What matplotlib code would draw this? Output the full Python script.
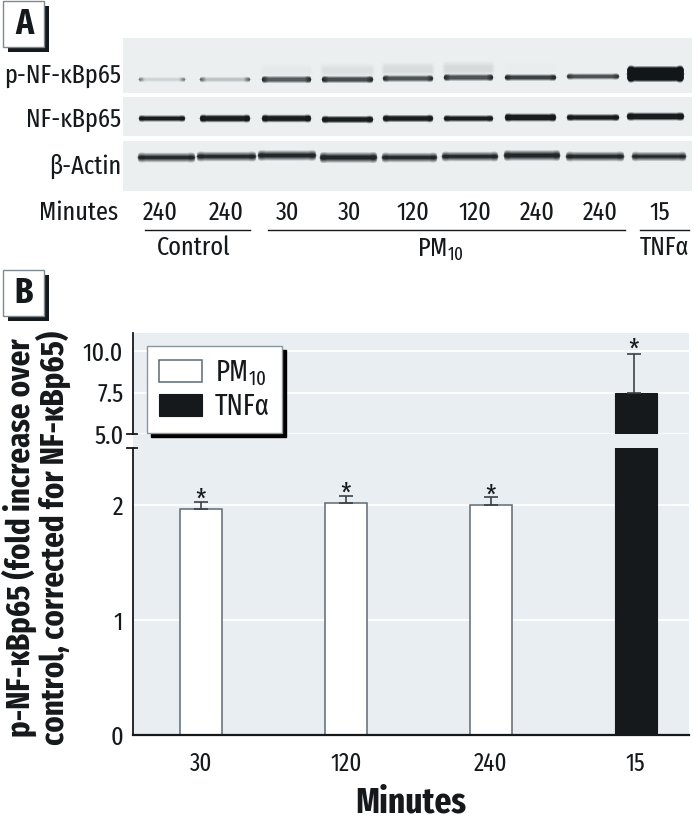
import numpy as np
import matplotlib
matplotlib.use("Agg")
import matplotlib.pyplot as plt
from matplotlib.patches import Rectangle
from matplotlib import font_manager as fm

names = {f.name for f in fm.fontManager.ttflist}
FAMS = [n for n in ["Fira Sans Extra Condensed", "Roboto Condensed", "Liberation Sans", "DejaVu Sans"] if n in names]
plt.rcParams["font.family"] = FAMS
plt.rcParams["mathtext.fontset"] = "custom"
plt.rcParams["mathtext.rm"] = FAMS[0]
plt.rcParams["mathtext.default"] = "rm"

# ---- panel B data
categories = ["30", "120", "240", "15"]
pm10_values = [1.97, 2.02, 2.00]
pm10_errors = [0.06, 0.06, 0.07]
tnf_value = [7.45]
tnf_error = [2.35]
lower_ticks = [0, 1, 2]
upper_ticks = [5.0, 7.5, 10.0]

# ---- panel A data (lanes)
lane_left = [138, 199, 261, 321, 382, 443, 504, 566, 626]
lane_right = [185, 250, 311, 373, 433, 493, 556, 619, 684]
p_mid = [0.14, 0.22, 0.68, 0.75, 0.72, 0.72, 0.80, 0.72, 1.0]
p_end = [0.70, 0.80, 0.98, 0.98, 0.95, 0.98, 0.98, 0.90, 1.0]
p_half = [1.6, 1.8, 2.6, 2.6, 2.5, 2.6, 2.4, 2.2, 7.2]
p_center = [79, 79, 79, 79, 78, 77, 77, 76, 73.5]
p_smear = [0.0, 0.0, 0.03, 0.07, 0.09, 0.10, 0.01, 0.0, 0.0]
total_half = [2.4, 3.0, 3.0, 2.8, 2.8, 2.5, 3.2, 2.6, 3.2]
total_center = [118, 118, 118, 119, 118, 118, 117, 117, 116]
actin_left = [137, 196, 257, 319, 381, 441, 503, 565, 631]
actin_right = [195, 256, 316, 377, 437, 498, 560, 624, 686]
actin_half = [3.0, 3.0, 3.3, 3.5, 3.0, 3.0, 3.5, 3.0, 2.8]
actin_center = [157, 156, 155, 157, 157, 156, 155, 156, 156]

lane_labels = ["240", "240", "30", "30", "120", "120", "240", "240", "15"]
lane_label_x = [160, 226, 288, 350, 413, 475, 537, 600, 660]
row_labels = ["p-NF-κBp65", "NF-κBp65", "β-Actin"]
row_label_y = [76, 120, 166]

W, H = 698, 821
INK = "#15191c"
BG = "#e9eef2"
fig = plt.figure(figsize=(W / 100, H / 100), dpi=100, facecolor="white")


def ax_px(x0, y0, x1, y1, **kw):
    return fig.add_axes([x0 / W, 1 - y1 / H, (x1 - x0) / W, (y1 - y0) / H], **kw)


PLOT_L, PLOT_R, PLOT_T, PLOT_B = 133, 689, 333, 735
BREAK_LOW, BREAK_UP = 448, 434

# ---- panel B background
bg = ax_px(PLOT_L, PLOT_T, PLOT_R, PLOT_B, zorder=0)
bg.set_facecolor(BG)
bg.set_xticks([]); bg.set_yticks([])
for s in bg.spines.values():
    s.set_visible(False)

xs = np.arange(4)
centres_px = [201, 345, 490, 635.5]
pitch = (centres_px[3] - centres_px[0]) / 3
xlim = ((PLOT_L - centres_px[0]) / pitch, (PLOT_R - centres_px[0]) / pitch)
bar_w = 42 / pitch

low = ax_px(PLOT_L, BREAK_LOW, PLOT_R, PLOT_B, zorder=2)
up = ax_px(PLOT_L, PLOT_T, PLOT_R, BREAK_UP, zorder=2)
low.set_ylim(0, (PLOT_B - BREAK_LOW) / 114.8)
up.set_ylim(5, 5 + (BREAK_UP - PLOT_T) / 16.6)

for ax in (low, up):
    ax.patch.set_alpha(0)
    ax.set_xlim(xlim)
    ax.spines["top"].set_visible(False)
    ax.spines["right"].set_visible(False)
    ax.spines["left"].set_color(INK)
    ax.spines["left"].set_linewidth(1.3)
    ax.grid(axis="y", color="white", lw=1.3, zorder=0)
    ax.set_axisbelow(True)
    ax.tick_params(axis="y", length=0, labelsize=19, labelcolor=INK, pad=7)

low.spines["bottom"].set_color(INK)
low.spines["bottom"].set_linewidth(1.6)
up.spines["bottom"].set_visible(False)
up.set_xticks([])
low.set_xticks(xs, categories)
low.tick_params(axis="x", length=0, labelsize=18, labelcolor=INK, pad=12)
low.set_yticks(lower_ticks)
up.set_yticks(upper_ticks, [f"{v:.1f}" for v in upper_ticks])

edge = "#5d6a74"
err_kw = dict(ecolor="#3a4248", elinewidth=1.2, capsize=4.7, capthick=1.2, zorder=3)
pm_handle = None
tnf_handle = None
for ax in (low, up):
    pm_handle = ax.bar(xs[:3], pm10_values, bar_w, color="white", edgecolor=edge, lw=1.1,
                       zorder=2, label="PM$_{10}$")
    tnf_handle = ax.bar(xs[3:], tnf_value, bar_w, color=INK, edgecolor=INK, lw=0.8,
                        zorder=2, label="TNFα")
low.errorbar(xs[:3], pm10_values, yerr=[[0] * 3, pm10_errors], fmt="none", **err_kw)
up.errorbar(xs[3:] - 0.01, tnf_value, yerr=[[0], tnf_error], fmt="none", **err_kw)

for x, v, e in zip(xs[:3], pm10_values, pm10_errors):
    low.annotate("*", (x, v + e), xytext=(0, -9), textcoords="offset points", ha="center",
                 va="bottom", fontsize=20, color=INK)
up.annotate("*", (3 - 0.01, tnf_value[0] + tnf_error[0]), xytext=(0, -7.5), textcoords="offset points",
            ha="center", va="bottom", fontsize=20, color=INK, annotation_clip=False)

# axis-break ticks
for y_px in (BREAK_UP, BREAK_LOW):
    fig.add_artist(plt.Line2D([127 / W, 137 / W], [1 - y_px / H] * 2, color=INK, lw=1.3, zorder=5))

# legend
leg = up.legend(handles=[pm_handle, tnf_handle], loc="upper left", frameon=True, fancybox=False,
                bbox_to_anchor=(147 / W, 1 - 346 / H), bbox_transform=fig.transFigure,
                borderaxespad=0, fontsize=21, handlelength=1.48, handleheight=0.76, handletextpad=0.42,
                labelspacing=0.15, borderpad=0.42, framealpha=1,
                shadow={"color": "black", "alpha": 1, "ox": 3, "oy": -3}, labelcolor=INK)
leg.get_frame().set_edgecolor("#8a969e")
leg.get_frame().set_linewidth(1.0)
leg.set_zorder(10)

# ---- panel A blot
pix = ax_px(0, 0, W, H, zorder=6)
pix.patch.set_alpha(0)
pix.axis("off")

BX0, BX1, BY0, BY1 = 123, 692, 38, 191
yy, xx = np.mgrid[BY0:BY1, BX0:BX1].astype(float)
dark = np.zeros_like(xx)


def soft(d, s):
    return np.clip(0.5 + d / (2 * s), 0, 1)


def add_band(l, r, cy, half, mid, end, s=1.2):
    c = (l + r) / 2
    u = np.clip(np.abs(xx - c) / ((r - l) / 2), 0, 1)
    flare = np.clip((u - 0.72) / 0.28, 0, 1)
    h = half * (1 + 0.5 * flare) * np.sqrt(1 - u ** 10)
    strength = mid + (end - mid) * flare
    inside = soft((r - l) / 2 - np.abs(xx - c), 1.2)
    return soft(h - np.abs(yy - cy), s) * strength * inside


for i in range(9):
    dark = np.maximum(dark, add_band(lane_left[i], lane_right[i], p_center[i], p_half[i], p_mid[i], p_end[i]))
    dark = np.maximum(dark, p_smear[i] * soft(5 - np.abs(yy - (p_center[i] - 9)), 3)
                      * soft((lane_right[i] - lane_left[i]) / 2 - np.abs(xx - (lane_left[i] + lane_right[i]) / 2), 2))
    dark = np.maximum(dark, add_band(lane_left[i], lane_right[i], total_center[i], total_half[i], 0.97, 1.0))
    dark = np.maximum(dark, add_band(actin_left[i], actin_right[i], actin_center[i], actin_half[i], 0.93, 0.93, s=2.2))

rgb = np.empty(dark.shape + (3,))
paper = np.array([0.925, 0.94, 0.945])
ink = np.array([0.07, 0.09, 0.10])
for c in range(3):
    rgb[..., c] = paper[c] + (ink[c] - paper[c]) * dark
for a, b in ((93, 97), (136, 141)):
    rgb[(yy >= a) & (yy < b)] = 1.0
pix.imshow(rgb, extent=(BX0, BX1, BY1, BY0), aspect="auto", interpolation="bilinear", zorder=1)
pix.set_xlim(0, W)
pix.set_ylim(H, 0)

# panel A text
TXT = dict(color=INK, fontsize=19, va="center")
for lab, y in zip(row_labels, row_label_y):
    pix.text(121, y, lab, ha="right", **TXT)
pix.text(118, 213, "Minutes", ha="right", **TXT)
for lab, x in zip(lane_labels, lane_label_x):
    pix.text(x, 213, lab, ha="center", **TXT)
for x0, x1 in ((145, 250), (268, 625), (640, 689)):
    pix.plot([x0, x1], [230, 230], color=INK, lw=1.0)
pix.text(194, 248, "Control", ha="center", **TXT)
pix.text(440, 250, "PM$_{10}$", ha="center", **TXT)
pix.text(665, 248, "TNFα", ha="center", **TXT)

# panel labels
for lab, y0 in (("A", 1), ("B", 270)):
    pix.add_patch(Rectangle((8, y0 + 5), 41, 46, fc=INK, ec="none", zorder=2))
    pix.add_patch(Rectangle((3, y0), 41, 46, fc="white", ec="#7d8a92", lw=1.0, zorder=3))
    pix.text(24, y0 + 23, lab, ha="center", va="center", fontsize=26, fontweight="bold", color=INK, zorder=4)

# axis titles
pix.text(19, 538, "p-NF-κBp65 (fold increase over", rotation=90, ha="center", va="center",
         fontsize=24, fontweight="bold", color=INK)
pix.text(53, 538, "control, corrected for NF-κBp65)", rotation=90, ha="center", va="center",
         fontsize=24, fontweight="bold", color=INK)
pix.text(411, 803, "Minutes", ha="center", va="center", fontsize=26, fontweight="bold", color=INK)

fig.savefig("out.png", dpi=100)
